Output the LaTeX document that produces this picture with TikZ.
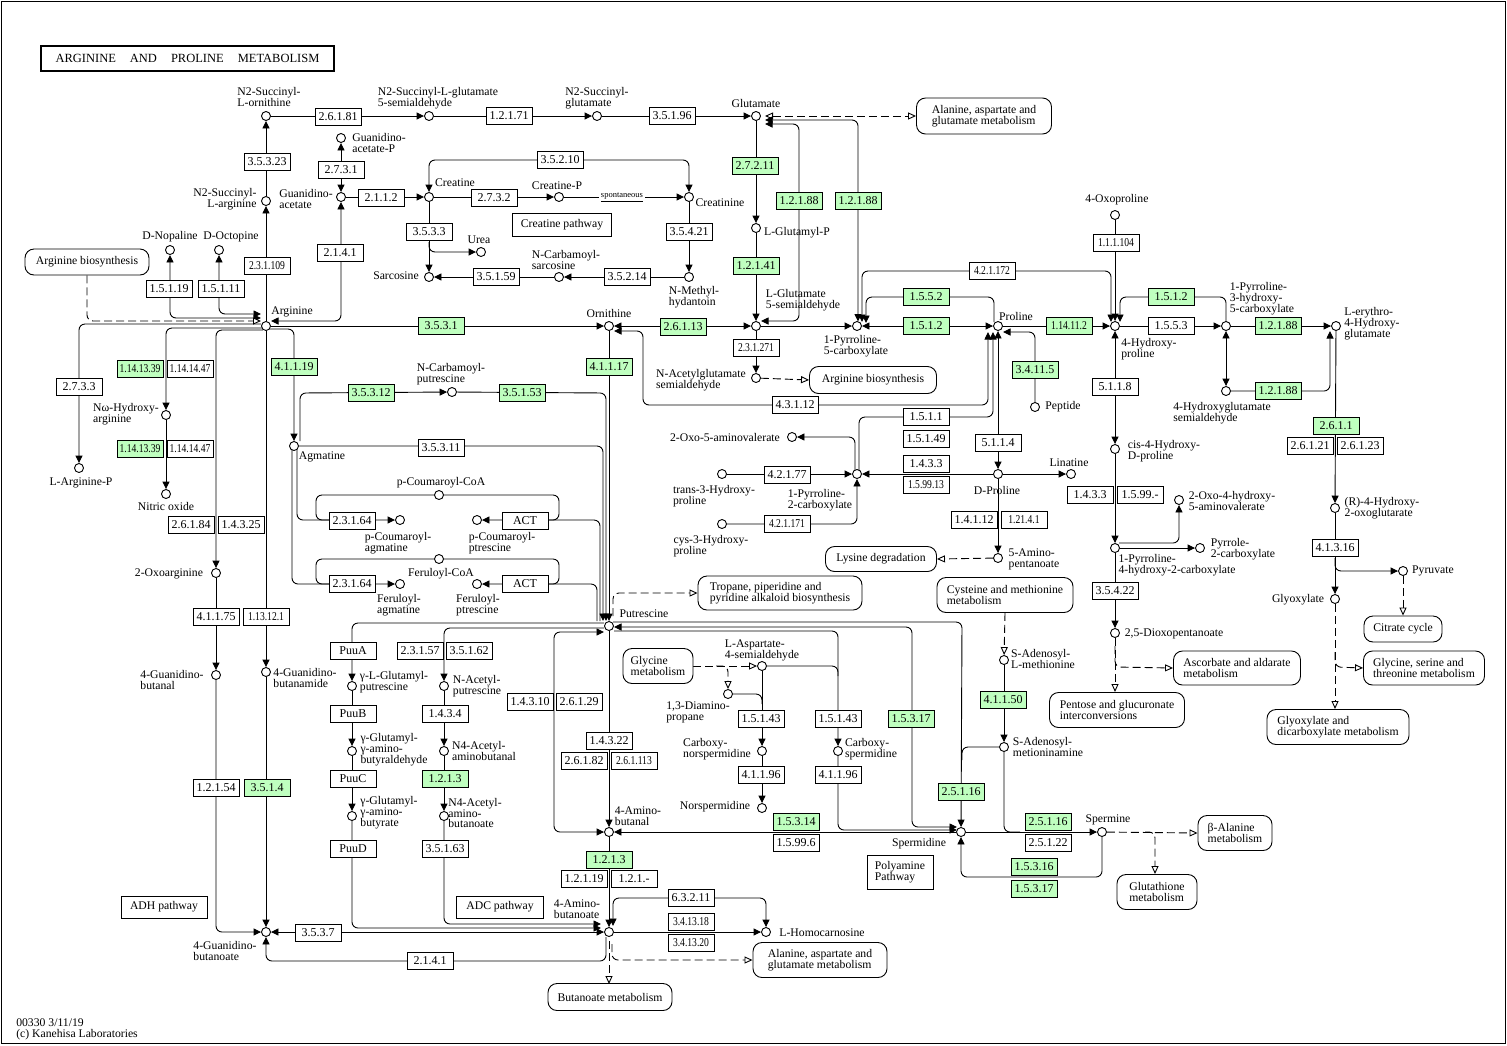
\documentclass[tikz,border=0pt]{standalone}
\usepackage{graphicx}
\usepackage{fontspec}
\setmainfont{Liberation Serif}
\usetikzlibrary{arrows.meta}
\definecolor{kg}{RGB}{191,255,191}
\pgfdeclarelayer{edges}
\pgfsetlayers{edges,main}
\tikzset{
  every node/.style={inner sep=0pt},
  cpd/.style={circle,draw,fill=white,minimum size=9pt,line width=0.9pt},
  ez/.style={draw,fill=white,minimum width=46pt,minimum height=16.5pt,font=\fontsize{12}{12}\selectfont,line width=0.9pt},
  gz/.style={ez,fill=kg},
  lb/.style={font=\fontsize{11.7}{10.9}\selectfont,align=left},
  lbr/.style={font=\fontsize{11.7}{10.9}\selectfont,align=right},
  mp/.style={draw,fill=white,rounded corners=9pt,align=left,font=\fontsize{11.7}{10.9}\selectfont,line width=0.9pt},
  pb/.style={draw,fill=white,align=left,font=\fontsize{11.7}{10.9}\selectfont,line width=0.9pt},
  ln/.style={line width=0.9pt},
  ar/.style={ln,-{Triangle[length=7.5pt,width=7pt]}},
  ba/.style={ln,{Triangle[length=7.5pt,width=7pt]}-{Triangle[length=7.5pt,width=7pt]}},
  rc/.style={rounded corners=6pt},
  dl/.style={ln,dash pattern=on 8pt off 4pt},
  oa/.style={dl,-{Triangle[open,length=8pt,width=7pt,fill=white]}},
  boa/.style={dl,{Triangle[open,length=8pt,width=7pt,fill=white]}-{Triangle[open,length=8pt,width=7pt,fill=white]}},
}
\newcommand\Cp[2]{\node[cpd] (#1) at (#2) {};}
\newcommand\Ez[4][]{\node[ez,#1] (#2) at (#3) {#4};}
\newcommand\Gz[4][]{\node[gz,#1] (#2) at (#3) {#4};}
\newcommand\Lb[4][lb]{\node[#1] (#2) at (#3) {#4};}
\newcommand\nz[1]{\scalebox{0.8}[1]{#1}}
\begin{document}
\begin{tikzpicture}[x=1pt,y=-1pt]
\useasboundingbox (0,0) rectangle (1507,1045);
\draw[line width=1pt] (1,1) rectangle (1505,1043);
\node[draw,line width=1.6pt,minimum width=293pt,minimum height=25pt,font=\fontsize{12.5}{12.5}\selectfont] (title) at (187.5,58.5) {ARGININE\hspace{14pt}AND\hspace{14pt}PROLINE\hspace{14pt}METABOLISM};
\node[lb] (foot) at (77,1029) {00330 3/11/19\\(c) Kanehisa Laboratories};

% ---------- compounds ----------
\Cp{n2sorn}{266,116} \Cp{n2sgs}{429,116} \Cp{n2sglu}{597,116} \Cp{glu}{756,116}
\Cp{gaap}{341,138} \Cp{gaa}{341,197} \Cp{crea}{429,197} \Cp{creap}{559,197} \Cp{crn}{689,197}
\Cp{urea}{481,252} \Cp{sarc}{429,277} \Cp{ncs}{559,277} \Cp{nmh}{689,277}
\Cp{n2sarg}{266,201} \Cp{nop}{170,250} \Cp{oct}{219,250} \Cp{arg}{266,326}
\Cp{orn}{609,326} \Cp{glup}{756,228} \Cp{g5s}{756,326} \Cp{p5c}{857,326} \Cp{pro}{998,326}
\Cp{nags}{756,378} \Cp{oxo5}{792,437} \Cp{p2c}{857,474} \Cp{t3hp}{722,474} \Cp{c3hp}{722,524}
\Cp{dpro}{998,474} \Cp{lin}{1071,474} \Cp{amp}{998,558} \Cp{sam}{1004,660} \Cp{samn}{1004,747}
\Cp{oxop}{1115,215} \Cp{hyp}{1115,326} \Cp{pep}{1035,407} \Cp{p3h}{1226,326} \Cp{ehg}{1336,326}
\Cp{hgs}{1226,391} \Cp{c4h}{1115,449} \Cp{p4h}{1115,548} \Cp{oha}{1179,500} \Cp{pyr2}{1200,548}
\Cp{dox}{1115,633} \Cp{rhog}{1335,508} \Cp{glyox}{1335,599} \Cp{pyruv}{1403,571}
\Cp{argp}{79,468} \Cp{nohar}{166,415} \Cp{no}{166,494} \Cp{oxarg}{216,573} \Cp{gbal}{216,675}
\Cp{gbam}{266,672} \Cp{gba}{266,932} \Cp{agm}{294,446} \Cp{ncp}{452,392} \Cp{put}{609,626}
\Cp{pcc}{439,495} \Cp{pca}{400,520} \Cp{pcp}{477,520} \Cp{fcc}{439,559} \Cp{fa}{400,584} \Cp{fp}{477,584}
\Cp{glput}{352,686} \Cp{ggab}{352,751} \Cp{ggabt}{352,816}
\Cp{nacp}{444,686} \Cp{nacab}{444,751} \Cp{nacabt}{444,816}
\Cp{asa}{762,666} \Cp{dap}{728,694} \Cp{cnsp}{762,751} \Cp{nsp}{762,808} \Cp{csp}{838,751}
\Cp{aba}{609,832} \Cp{spd}{961,832} \Cp{spm}{1102,832} \Cp{gabt}{609,932} \Cp{hcar}{766,932}

% ---------- compound labels ----------
\Lb{l1}{269,97}{N2-Succinyl-\\L-ornithine}
\Lb{l2}{438,98}{N2-Succinyl-L-glutamate\\5-semialdehyde}
\Lb{l3}{597,98}{N2-Succinyl-\\glutamate}
\Lb{l4}{756,103}{Glutamate}
\Lb{l5}{379,143}{Guanidino-\\acetate-P}
\Lb{l6}{306,199}{Guanidino-\\acetate}
\Lb{l7}{455,183}{Creatine}
\Lb{l8}{557,186}{Creatine-P}
\node[font=\fontsize{8.5}{8.5}\selectfont,fill=white,inner xsep=2pt,inner ysep=1pt] (spon) at (622,197) {\underline{spontaneous}};
\Lb{l9}{720,203}{Creatinine}
\Lb{l10}{479,240}{Urea}
\Lb{l11}{396,276}{Sarcosine}
\Lb{l12}{566,260}{N-Carbamoyl-\\sarcosine}
\Lb{l13}{694,297}{N-Methyl-\\hydantoin}
\Lb[lbr]{l14}{225,199}{N2-Succinyl-\\L-arginine}
\Lb{l15}{170,237}{D-Nopaline}
\Lb{l16}{231,237}{D-Octopine}
\Lb{l17}{292,312}{Arginine}
\Lb{l18}{609,313}{Ornithine}
\Lb{l19}{797,233}{L-Glutamyl-P}
\Lb{l20}{803,300}{L-Glutamate\\5-semialdehyde}
\Lb{l21}{856,346}{1-Pyrroline-\\5-carboxylate}
\Lb{l22}{1016,316}{Proline}
\Lb{l23}{701,380}{N-Acetylglutamate\\semialdehyde}
\Lb{l24}{725,437}{2-Oxo-5-aminovalerate}
\Lb{l25}{714,496}{trans-3-Hydroxy-\\proline}
\Lb{l26}{711,546}{cys-3-Hydroxy-\\proline}
\Lb{l27}{820,500}{1-Pyrroline-\\2-carboxylate}
\Lb{l28}{997,490}{D-Proline}
\Lb{l29}{1069,463}{Linatine}
\Lb{l30}{1034,559}{5-Amino-\\pentanoate}
\Lb{l31}{1043,659}{S-Adenosyl-\\L-methionine}
\Lb{l32}{1048,747}{S-Adenosyl-\\metioninamine}
\Lb{l33}{1117,200}{4-Oxoproline}
\Lb{l34}{1149,349}{4-Hydroxy-\\proline}
\Lb{l35}{1063,407}{Peptide}
\Lb{l36}{1262,299}{1-Pyrroline-\\3-hydroxy-\\5-carboxylate}
\Lb{l37}{1372,324}{L-erythro-\\4-Hydroxy-\\glutamate}
\Lb{l38}{1222,413}{4-Hydroxyglutamate\\semialdehyde}
\Lb{l39}{1164,451}{cis-4-Hydroxy-\\D-proline}
\Lb{l40}{1177,565}{1-Pyrroline-\\4-hydroxy-2-carboxylate}
\Lb{l41}{1232,501}{2-Oxo-4-hydroxy-\\5-aminovalerate}
\Lb{l42}{1243,549}{Pyrrole-\\2-carboxylate}
\Lb{l43}{1174,634}{2,5-Dioxopentanoate}
\Lb{l44}{1382,508}{(R)-4-Hydroxy-\\2-oxoglutarate}
\Lb{l45}{1298,600}{Glyoxylate}
\Lb{l46}{1433,571}{Pyruvate}
\Lb{l47}{81,483}{L-Arginine-P}
\Lb{l48}{126,414}{Nω-Hydroxy-\\arginine}
\Lb{l49}{166,506}{Nitric oxide}
\Lb{l50}{169,574}{2-Oxoarginine}
\Lb{l51}{172,680}{4-Guanidino-\\butanal}
\Lb{l52}{305,678}{4-Guanidino-\\butanamide}
\Lb{l53}{225,951}{4-Guanidino-\\butanoate}
\Lb{l54}{322,457}{Agmatine}
\Lb{l55}{451,374}{N-Carbamoyl-\\putrescine}
\Lb{l56}{644,614}{Putrescine}
\Lb{l57}{441,483}{p-Coumaroyl-CoA}
\Lb{l58}{398,543}{p-Coumaroyl-\\agmatine}
\Lb{l59}{502,543}{p-Coumaroyl-\\ptrescine}
\Lb{l60}{441,574}{Feruloyl-CoA}
\Lb{l61}{399,605}{Feruloyl-\\agmatine}
\Lb{l62}{478,605}{Feruloyl-\\ptrescine}
\Lb{l63}{394,682}{γ-L-Glutamyl-\\putrescine}
\Lb{l64}{394,750}{γ-Glutamyl-\\γ-amino-\\butyraldehyde}
\Lb{l65}{389,813}{γ-Glutamyl-\\γ-amino-\\butyrate}
\Lb{l66}{477,686}{N-Acetyl-\\putrescine}
\Lb{l67}{484,751}{N4-Acetyl-\\aminobutanal}
\Lb{l68}{475,813}{N4-Acetyl-\\amino-\\butanoate}
\Lb{l69}{762,650}{L-Aspartate-\\4-semialdehyde}
\Lb{l70}{698,712}{1,3-Diamino-\\propane}
\Lb{l71}{717,749}{Carboxy-\\norspermidine}
\Lb{l72}{715,807}{Norspermidine}
\Lb{l73}{871,749}{Carboxy-\\spermidine}
\Lb{l74}{638,816}{4-Amino-\\butanal}
\Lb{l75}{919,844}{Spermidine}
\Lb{l76}{1108,820}{Spermine}
\Lb{l77}{577,909}{4-Amino-\\butanoate}
\Lb{l78}{822,933}{L-Homocarnosine}

% ---------- enzymes ----------
\Ez{e1}{338,117}{2.6.1.81} \Ez{e2}{509,116}{1.2.1.71} \Ez{e3}{672,116}{3.5.1.96}
\Ez{e4}{341,170}{2.7.3.1} \Ez{e5}{381,198}{2.1.1.2} \Ez{e6}{494,198}{2.7.3.2}
\Ez{e7}{560,160}{3.5.2.10} \Ez{e8}{429,232}{3.5.3.3} \Ez{e9}{496,277}{3.5.1.59}
\Ez{e10}{627,277}{3.5.2.14} \Ez{e11}{689,232}{3.5.4.21}
\Ez{e12}{267,162}{3.5.3.23} \Ez{e13}{267,266}{\nz{2.3.1.109}} \Ez{e14}{340,253}{2.1.4.1}
\Ez{e15}{169,289}{1.5.1.19} \Ez{e16}{221,289}{1.5.1.11}
\Gz{g1}{441,326}{3.5.3.1} \Gz{g2}{683,327}{2.6.1.13} \Gz{g3}{755,166}{2.7.2.11}
\Gz{g4}{756,266}{1.2.1.41} \Gz{g5}{799,201}{1.2.1.88} \Gz{g6}{858,201}{1.2.1.88}
\Ez{e17}{992,271}{\nz{4.2.1.172}} \Gz{g7}{926,297}{1.5.5.2} \Gz{g8}{926,326}{1.5.1.2}
\Ez{e18}{756,348}{\nz{2.3.1.271}} \Ez{e19}{795,405}{4.3.1.12}
\Ez{e20}{926,417}{1.5.1.1} \Ez{e21}{926,439}{1.5.1.49}
\Ez{e22}{787,475}{4.2.1.77} \Ez{e23}{787,524}{\nz{4.2.1.171}}
\Ez{e24}{926,464}{1.4.3.3} \Ez{e25}{926,485}{\nz{1.5.99.13}}
\Ez{e26}{998,443}{5.1.1.4} \Ez{e27}{974,520}{1.4.1.12} \Ez{e28}{1024,520}{\nz{1.21.4.1}}
\Gz{g9}{1003,700}{4.1.1.50}
\Ez{e29}{1116,243}{\nz{1.1.1.104}} \Gz{g10}{1069,326}{\nz{1.14.11.2}} \Gz{g11}{1035,370}{3.4.11.5}
\Gz{g12}{1171,297}{1.5.1.2} \Ez{e30}{1171,326}{1.5.5.3}
\Gz{g13}{1278,326}{1.2.1.88} \Gz{g14}{1278,391}{1.2.1.88}
\Gz{g15}{1336,426}{2.6.1.1} \Ez{e31}{1310,446}{2.6.1.21} \Ez{e32}{1360,446}{2.6.1.23}
\Ez{e33}{1335,548}{4.1.3.16} \Ez{e34}{1115,387}{5.1.1.8}
\Ez{e35}{1090,495}{1.4.3.3} \Ez{e36}{1140,495}{1.5.99.-} \Ez{e37}{1115,591}{3.5.4.22}
\Ez{e38}{79,387}{2.7.3.3}
\Gz{g16}{140,369}{\nz{1.14.13.39}} \Ez{e39}{190,369}{\nz{1.14.14.47}}
\Gz{g17}{140,449}{\nz{1.14.13.39}} \Ez{e40}{190,449}{\nz{1.14.14.47}}
\Ez{e41}{191,525}{2.6.1.84} \Ez{e42}{241,525}{1.4.3.25}
\Ez{e43}{216,617}{4.1.1.75} \Ez{e44}{266,617}{\nz{1.13.12.1}}
\Ez{e45}{216,788}{1.2.1.54} \Gz{g18}{267,788}{3.5.1.4}
\Ez{e46}{318,933}{3.5.3.7} \Ez{e47}{430,961}{2.1.4.1}
\Gz{g19}{294,367}{4.1.1.19} \Gz{g20}{371,393}{3.5.3.12} \Gz{g21}{522,393}{3.5.1.53}
\Ez{e48}{441,448}{3.5.3.11} \Gz{g22}{609,367}{4.1.1.17}
\Ez{e49}{352,521}{2.3.1.64} \Ez{e50}{525,521}{ACT}
\Ez{e51}{352,584}{2.3.1.64} \Ez{e52}{525,584}{ACT}
\Ez{e53}{353,651}{PuuA} \Ez{e54}{353,714}{PuuB} \Ez{e55}{353,779}{PuuC} \Ez{e56}{353,849}{PuuD}
\Ez{e57}{420,651}{2.3.1.57} \Ez{e58}{469,651}{3.5.1.62}
\Ez{e59}{445,714}{1.4.3.4} \Gz{g23}{445,779}{1.2.1.3} \Ez{e60}{445,849}{3.5.1.63}
\Ez{e61}{530,702}{1.4.3.10} \Ez{e62}{579,702}{2.6.1.29}
\Ez{e63}{609,741}{1.4.3.22} \Ez{e64}{584,761}{2.6.1.82} \Ez{e65}{634,761}{\nz{2.6.1.113}}
\Gz{g24}{796,822}{1.5.3.14} \Ez{e66}{796,843}{1.5.99.6}
\Gz{g25}{609,860}{1.2.1.3} \Ez{e67}{584,879}{1.2.1.19} \Ez{e68}{634,879}{1.2.1.-}
\Ez{e69}{691,898}{6.3.2.11} \Ez{e70}{691,922}{\nz{3.4.13.18}} \Ez{e71}{691,943}{\nz{3.4.13.20}}
\Ez{e72}{761,719}{1.5.1.43} \Ez{e73}{761,775}{4.1.1.96}
\Ez{e74}{838,719}{1.5.1.43} \Ez{e75}{838,775}{4.1.1.96}
\Gz{g26}{911,719}{1.5.3.17} \Gz{g27}{961,792}{2.5.1.16}
\Gz{g28}{1048,822}{2.5.1.16} \Ez{e76}{1048,843}{2.5.1.22}
\Gz{g29}{1034,867}{1.5.3.16} \Gz{g30}{1034,889}{1.5.3.17}

% ---------- boxes and maps ----------
\node[pb,minimum width=99pt,minimum height=23pt] (crp) at (562,225) {Creatine pathway};
\node[pb,minimum width=86pt,minimum height=22pt] (adh) at (164,907) {ADH pathway};
\node[pb,minimum width=87pt,minimum height=22pt] (adc) at (500,907) {ADC pathway};
\node[pb,minimum width=66pt,minimum height=34pt] (poly) at (900,872) {Polyamine\\Pathway};
\node[mp,minimum width=135pt,minimum height=36pt] (m1) at (984,116) {Alanine, aspartate and\\glutamate metabolism};
\node[mp,minimum width=124pt,minimum height=26pt] (m2) at (87,262) {Arginine biosynthesis};
\node[mp,minimum width=127pt,minimum height=27pt] (m3) at (873,380) {Arginine biosynthesis};
\node[mp,minimum width=111pt,minimum height=25pt] (m4) at (881,559) {Lysine degradation};
\node[mp,minimum width=136pt,minimum height=35pt] (m5) at (1005,595) {Cysteine and methionine\\metabolism};
\node[mp,minimum width=164pt,minimum height=34pt] (m6) at (780,593) {Tropane, piperidine and\\pyridine alkaloid biosynthesis};
\node[mp,minimum width=70pt,minimum height=35pt] (m7) at (658,666) {Glycine\\metabolism};
\node[mp,minimum width=78pt,minimum height=26pt] (m8) at (1403,629) {Citrate cycle};
\node[mp,minimum width=121pt,minimum height=34pt] (m9) at (1424,668) {Glycine, serine and\\threonine metabolism};
\node[mp,minimum width=127pt,minimum height=34pt] (m10) at (1237,668) {Ascorbate and aldarate\\metabolism};
\node[mp,minimum width=135pt,minimum height=35pt] (m11) at (1117,710) {Pentose and glucuronate\\interconversions};
\node[mp,minimum width=142pt,minimum height=35pt] (m12) at (1338,727) {Glyoxylate and\\dicarboxylate metabolism};
\node[mp,minimum width=74pt,minimum height=35pt] (m13) at (1235,833) {β-Alanine\\metabolism};
\node[mp,minimum width=80pt,minimum height=35pt] (m14) at (1157,892) {Glutathione\\metabolism};
\node[mp,minimum width=134pt,minimum height=35pt] (m15) at (820,960) {Alanine, aspartate and\\glutamate metabolism};
\node[mp,minimum width=124pt,minimum height=27pt] (m16) at (610,997) {Butanoate metabolism};

% ---------- connectors ----------
\begin{pgfonlayer}{edges}
\draw[ar] (n2sorn) -- (n2sgs);
\draw[ar] (n2sgs) -- (n2sglu);
\draw[ar] (n2sglu) -- (glu);
\draw[boa] (765,116) -- (m1.west);
\draw[ar] (arg) -- (n2sarg);
\draw[ar] (n2sarg) -- (n2sorn);
\draw[ba] (gaa) -- (gaap);
\draw[ar] (gaa) -- (crea);
\draw[ar] (crea) -- (creap);
\draw[ar] (creap) -- (crn);
\draw[ba,rc] (crea) -- (429,160) -- (689,160) -- (crn);
\draw[ar] (crea) -- (sarc);
\draw[ar,rc] (429,242) -- (429,252) -- (urea);
\draw[ar] (ncs) -- (sarc);
\draw[ar] (nmh) -- (ncs);
\draw[ar] (crn) -- (nmh);
\draw[ba,rc] (nop) -- (170,318) -- (261,318);
\draw[ba,rc] (oct) -- (219,314) -- (261,314);
\draw[oa,rc] (m2.south) -- (87,321) -- (261,321);
\draw[ba,rc] (gaa) -- (341,321) -- (271,321);
\draw[ar] (arg) -- (orn);
\draw[ba] (orn) -- (g5s);
\draw[ar] (glu) -- (glup);
\draw[ar] (glup) -- (g5s);
\draw[ba,rc] (761,321) -- (799,321) -- (799,124) -- (765,124);
\draw[ba,rc] (765,120) -- (858,120) -- (858,321.5);
\draw[ar] (g5s) -- (p5c);
\draw[ba,rc] (862,322) -- (862,271) -- (1111,271) -- (1111,322);
\draw[ar,rc] (994,322) -- (994,297) -- (866,297) -- (866,323);
\draw[ba] (p5c) -- (pro);
\draw[ar] (g5s) -- (nags);
\draw[oa] (nags) -- (m3.west);
\draw[ba,rc] (614,331) -- (643,331) -- (643,405) -- (988,405) -- (988,332);
\draw[ar,rc] (859,470) -- (859,417) -- (993,417) -- (993,332);
\draw[ar,rc] (855,470) -- (855,437) -- (oxo5);
\draw[ar] (t3hp) -- (p2c);
\draw[ar,rc] (c3hp) -- (857,524) -- (p2c);
\draw[ar] (dpro) -- (p2c);
\draw[ba] (pro) -- (dpro);
\draw[ar] (dpro) -- (lin);
\draw[ar] (dpro) -- (amp);
\draw[oa] (amp) -- (m4.east);
\draw[oa] (m5.south) -- (sam);
\draw[ar] (sam) -- (samn);
\draw[ar] (oxop) -- (hyp);
\draw[ar] (pro) -- (hyp);
\draw[ar,rc] (pep) -- (1035,332) -- (1003,332);
\draw[ar,rc] (p3h) -- (1226,297) -- (1120,297) -- (1120,322);
\draw[ar] (hyp) -- (p3h);
\draw[ar] (p3h) -- (ehg);
\draw[ba] (p3h) -- (hgs);
\draw[ar,rc] (hgs) -- (1330,391) -- (1330,331);
\draw[ar] (ehg) -- (rhog);
\draw[ar] (rhog) -- (glyox);
\draw[ar,rc] (1335,558) -- (1335,571) -- (pyruv);
\draw[oa] (pyruv) -- (m8.north);
\draw[oa] (glyox) -- (1335,709);
\draw[oa,rc] (1335,652) -- (1335,667) -- (m9.west);
\draw[ba] (hyp) -- (c4h);
\draw[ar] (c4h) -- (p4h);
\draw[ar,rc] (1119,543) -- (1179,543) -- (oha);
\draw[ar] (p4h) -- (pyr2);
\draw[ar] (p4h) -- (dox);
\draw[oa] (dox) -- (1115,692);
\draw[oa,rc] (1115,646) -- (1115,667) -- (m10.west);
\draw[ar,rc] (261,324) -- (79,324) -- (argp);
\draw[ar,rc] (262,328) -- (166,328) -- (nohar);
\draw[ar] (nohar) -- (no);
\draw[ar,rc] (263,330) -- (216,330) -- (oxarg);
\draw[ar] (oxarg) -- (gbal);
\draw[ar,rc] (gbal) -- (216,932) -- (gba);
\draw[ar] (arg) -- (gbam);
\draw[ar] (gbam) -- (gba);
\draw[ba] (gba) -- (gabt);
\draw[ar,rc] (606,937) -- (606,961) -- (266,961) -- (gba);
\draw[ar,rc] (270,329) -- (294,329) -- (agm);
\draw[ar,rc] (300,441) -- (300,393) -- (ncp);
\draw[ar,rc] (ncp) -- (606,393) -- (606,621);
\draw[ar,rc] (agm) -- (603,446) -- (603,621);
\draw[ar] (orn) -- (put);
\draw[ar,rc] (297,450) -- (297,520) -- (pca);
\draw[ln,rc] (pcc) -- (316,495) -- (316,520) -- (330,520);
\draw[ar,rc] (600,621) -- (600,520) -- (pcp);
\draw[ln,rc] (pcc) -- (559,495) -- (559,520) -- (548,520);
\draw[ar,rc] (292,450) -- (292,584) -- (fa);
\draw[ln,rc] (fcc) -- (316,559) -- (316,584) -- (330,584);
\draw[ar,rc] (597,621) -- (597,584) -- (fp);
\draw[ln,rc] (fcc) -- (559,559) -- (559,584) -- (548,584);
\draw[ar,rc] (604,623) -- (352,623) -- (glput);
\draw[ar,rc] (604,628) -- (444,628) -- (nacp);
\draw[ba,rc] (604,632) -- (554,632) -- (554,832) -- (aba);
\draw[ar] (glput) -- (ggab);
\draw[ar] (ggab) -- (ggabt);
\draw[ar,rc] (ggabt) -- (352,928) -- (601,928);
\draw[ar] (nacp) -- (nacab);
\draw[ar] (nacab) -- (nacabt);
\draw[ar,rc] (nacabt) -- (444,924) -- (601,924);
\draw[ar,rc] (613,622) -- (962,622) -- (spd);
\draw[ba,rc] (614,627) -- (912,627) -- (912,827) -- (957,827);
\draw[ar,rc] (614,631) -- (838,631) -- (csp);
\draw[ln,rc] (asa) -- (838,666) -- (838,676);
\draw[ar] (asa) -- (cnsp);
\draw[ln,rc] (dap) -- (762,694) -- (762,704);
\draw[ar] (cnsp) -- (nsp);
\draw[ar,rc] (csp) -- (838,830) -- (957,830);
\draw[ln,rc] (samn) -- (962,747) -- (962,760);
\draw[ar] (spd) -- (aba);
\draw[ar] (spd) -- (spm);
\draw[ln,rc] (samn) -- (1004,832) -- (1020,832);
\draw[ar,rc] (spm) -- (1102,877) -- (961,877) -- (spd);
\draw[oa] (spm) -- (m13.west);
\draw[oa,rc] (1145,832) -- (1155,832) -- (1155,874);
\draw[ar] (put) -- (aba);
\draw[ar] (aba) -- (gabt);
\draw[ba,rc] (613,926) -- (613,898) -- (766,898) -- (hcar);
\draw[ar] (gabt) -- (hcar);
\draw[oa] (609,941) -- (609,984);
\draw[oa,rc] (612,944) -- (612,960) -- (m15.west);
\draw[oa] (m7.east) -- (asa);
\draw[oa,rc] (716,666) -- (728,666) -- (dap);
\draw[oa,rc] (613,616) -- (613,593) -- (m6.west);
\end{pgfonlayer}
\end{tikzpicture}
\end{document}
